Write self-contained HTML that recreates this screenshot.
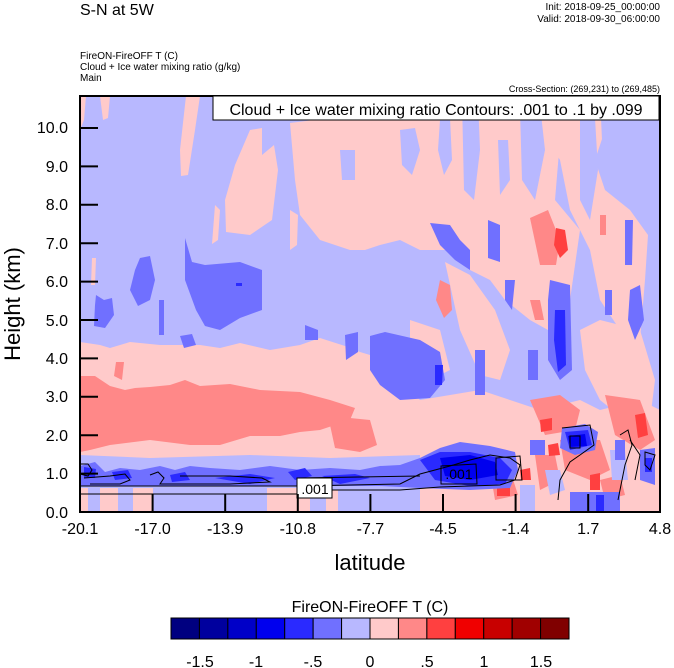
<!DOCTYPE html>
<html><head><meta charset="utf-8"><style>
body{margin:0;background:#fff;width:674px;height:668px;overflow:hidden}
svg{display:block}
text{font-family:"Liberation Sans",Arial,sans-serif}
</style></head><body>
<svg width="674" height="668" viewBox="0 0 674 668" xmlns="http://www.w3.org/2000/svg">
<defs><clipPath id="c"><rect x="80" y="96" width="580" height="416"/></clipPath></defs>
<g clip-path="url(#c)">
<rect x="80" y="96" width="580" height="416" fill="#b8b8ff"/>
<g fill="#ffcaca">
<path d="M80 96 L86 96 L84 120 L80 130Z"/>
<path d="M100 96 L110 96 L108 118 L103 120Z"/>
<path d="M186 96 L200 96 L195 130 L188 175 L181 176 L180 150Z"/>
<path d="M240 96 L255 96 L250 120Z"/>
<path d="M250 130 L262 128 L262 155 L274 145 L278 170 L272 220 L250 235 L226 232 L225 200 L235 165Z"/>
<path d="M215 205 L220 210 L218 240 L212 244Z"/>
<path d="M92 258 L96 258 L95 285 L91 285Z"/>
<path d="M290 123 L330 118 L380 110 L420 96 L520 96 L540 110 L560 140 L555 200 L580 230 L570 300 L548 330 L530 320 L505 300 L490 280 L470 270 L450 250 L420 250 L400 240 L380 245 L365 250 L350 250 L320 240 L300 215 L295 180Z"/>
<path d="M520 96 L600 96 L612 96 L605 130 L595 160 L605 190 L630 210 L648 235 L645 280 L640 340 L620 330 L600 300 L590 250 L570 210 L560 160Z"/>
<path d="M290 210 L298 215 L297 245 L290 250Z"/>
<path d="M445 262 L470 275 L495 310 L510 350 L500 380 L480 375 L460 330Z"/>
<path d="M410 320 L440 330 L450 370 L430 380 L410 360Z"/>
<path d="M580 330 L600 320 L640 330 L655 380 L650 420 L625 420 L600 400 L585 370Z"/>
<path d="M80 342 L100 345 L110 348 L130 342 L160 345 L200 345 L220 348 L240 343 L270 350 L300 345 L320 338 L345 346 L360 352 L380 358 L400 380 L420 400 L450 395 L480 390 L510 400 L540 410 L580 400 L600 410 L640 400 L660 410 L660 512 L80 512Z"/>
</g>
<!-- blue streaks in upper pink -->
<g fill="#b8b8ff">
<path d="M400 130 L415 128 L420 150 L412 175 L402 165Z"/>
<path d="M440 120 L450 118 L452 160 L444 175 L438 150Z"/>
<path d="M462 100 L478 100 L480 150 L474 200 L464 190Z"/>
<path d="M520 110 L540 105 L545 150 L535 200 L522 180Z"/>
<path d="M580 120 L595 118 L598 170 L590 220 L580 200Z"/>
<path d="M498 140 L508 140 L510 180 L500 195Z"/>
<path d="M340 150 L355 150 L355 180 L342 180Z"/>
<path d="M600 96 L615 96 L612 125 L602 140Z"/>
</g>
<g fill="#ff8888">
<path d="M80 376 L95 376 L110 386 L125 390 L135 388 L150 387 L170 385 L185 380 L200 386 L230 384 L260 390 L300 392 L330 400 L355 408 L350 420 L320 430 L300 432 L280 436 L250 436 L220 445 L190 445 L150 440 L110 445 L90 450 L80 452Z"/>
<path d="M330 425 L350 418 L370 420 L377 445 L360 452 L335 448Z"/>
<path d="M116 362 L124 362 L122 380 L114 376Z"/>
<path d="M440 280 L450 285 L452 310 L444 318 L436 300Z"/>
<path d="M530 218 L548 210 L560 240 L556 265 L540 265Z"/>
<path d="M530 300 L540 300 L544 320 L535 320Z"/>
<path d="M600 215 L606 215 L606 235 L600 235Z"/>
<path d="M530 400 L560 395 L580 410 L575 430 L545 435Z"/>
<path d="M560 440 L600 440 L610 470 L590 480 L565 470Z"/>
<path d="M605 395 L640 400 L655 440 L640 450 L615 435Z"/>
<path d="M490 470 L510 470 L518 495 L495 500Z"/>
<path d="M535 455 L555 455 L560 480 L540 490Z"/>
<path d="M600 480 L620 475 L625 495 L605 500Z"/>
<path d="M80 465 L85 465 L86 480 L80 480Z"/>
<path d="M310 490 L326 490 L326 512 L310 512Z"/>
</g>
<g fill="#ff4040">
<path d="M556 228 L565 230 L568 250 L560 258 L554 245Z"/>
<path d="M548 445 L558 443 L560 455 L549 456Z"/>
<path d="M635 415 L645 413 L648 435 L638 438Z"/>
<path d="M497 484 L510 482 L510 496 L497 496Z"/>
<path d="M540 420 L552 418 L552 430 L541 432Z"/>
<path d="M590 475 L600 473 L600 490 L590 490Z"/>
<path d="M385 470 L398 465 L402 480 L388 482Z"/>
<path d="M520 470 L530 468 L531 480 L521 480Z"/>
</g>
<g fill="#7070ff">
<path d="M96 295 L104 300 L112 298 L114 315 L105 328 L94 326 L95 305Z"/>
<path d="M140 258 L150 256 L155 280 L150 300 L138 306 L130 290 L135 270Z"/>
<path d="M159 300 L164 300 L164 335 L159 335Z"/>
<path d="M185 238 L192 262 L205 265 L240 262 L262 270 L262 310 L240 318 L220 330 L205 326 L196 310 L185 280Z"/>
<path d="M180 336 L192 334 L196 345 L184 348Z"/>
<path d="M305 325 L318 330 L318 340 L305 340Z"/>
<path d="M345 335 L358 332 L358 352 L346 360Z"/>
<path d="M370 336 L385 332 L420 340 L440 352 L445 380 L430 398 L400 400 L380 385 L370 370Z"/>
<path d="M430 223 L450 225 L460 240 L470 250 L470 270 L455 260 L440 245Z"/>
<path d="M488 220 L500 225 L500 262 L488 258Z"/>
<path d="M505 280 L515 280 L512 310 L505 300Z"/>
<path d="M550 280 L570 285 L572 370 L560 380 L548 360 L548 300Z"/>
<path d="M630 290 L640 285 L644 320 L635 340 L628 320Z"/>
<path d="M625 220 L633 220 L632 265 L625 265Z"/>
<path d="M605 290 L612 290 L612 315 L605 315Z"/>
<path d="M528 350 L538 350 L538 380 L528 380Z"/>
<path d="M475 350 L485 350 L485 395 L475 395Z"/>
</g>
<g fill="#2a2aff"><path d="M555 310 L565 310 L566 365 L558 372 L554 340Z"/>
<path d="M435 365 L443 365 L442 385 L435 385Z"/>
<path d="M236 283 L242 283 L242 286 L236 286Z"/></g>
<g fill="#b8b8ff">
<path d="M80 455 L150 458 L250 455 L330 458 L420 455 L420 512 L80 512Z"/>
<rect x="520" y="485" width="15" height="27"/>
<path d="M545 470 L560 470 L565 490 L550 495Z"/>
<path d="M610 450 L625 450 L628 480 L612 480Z"/>
</g>
<g fill="#ffcaca">
<rect x="80" y="488" width="8" height="24"/><rect x="100" y="488" width="18" height="24"/>
<rect x="133" y="488" width="20" height="24"/><rect x="267" y="488" width="43" height="24"/>
<rect x="326" y="490" width="12" height="22"/>
</g>
<g fill="#7070ff">
<path d="M80 466 L95 462 L105 472 L120 468 L140 470 L160 466 L175 470 L190 466 L210 468 L240 470 L270 466 L300 470 L330 468 L360 470 L380 466 L400 465 L420 458 L440 448 L460 442 L490 446 L515 452 L518 470 L510 488 L470 490 L420 488 L380 486 L300 486 L200 486 L80 486Z"/>
<path d="M562 428 L585 424 L598 432 L595 450 L575 455 L560 448Z"/>
<path d="M530 440 L545 440 L545 455 L530 455Z"/>
<path d="M640 450 L655 448 L655 485 L640 480Z"/>
<path d="M615 440 L625 440 L625 460 L615 460Z"/>
<path d="M570 492 L620 492 L620 512 L570 512Z"/>
</g>
<g fill="#2a2aff">
<path d="M84 467 L96 469 L95 478 L84 478Z"/>
<path d="M112 472 L128 470 L132 478 L115 480Z"/>
<path d="M170 475 L185 472 L190 480 L172 482Z"/>
<path d="M215 478 L250 474 L275 478 L250 484Z"/>
<path d="M288 472 L305 468 L312 476 L295 480Z"/>
<path d="M322 476 L355 474 L370 478 L340 484Z"/>
<path d="M420 460 L440 452 L470 452 L500 458 L512 470 L505 484 L470 486 L435 480Z"/>
<path d="M565 432 L588 430 L592 445 L570 450Z"/>
<path d="M645 458 L652 458 L652 472 L645 472Z"/>
<path d="M596 495 L604 495 L604 512 L596 512Z"/>
</g>
<g fill="#0000ee"><path d="M440 458 L470 455 L495 462 L498 475 L470 480 L445 476Z"/><path d="M568 436 L585 434 L587 446 L570 447Z"/></g>
<g fill="none" stroke="#000" stroke-width="1">
<path d="M80 464 L88 464 L92 470 L88 476 L80 474"/>
<path d="M84 478 L110 476 L125 474 L130 480 L120 484 L100 484 L90 484"/>
<path d="M150 475 L158 472 L164 478 L160 484 L230 484 L270 482 L262 478 L230 476 L180 476"/>
<path d="M80 486 L300 486 L400 484 L420 474 L450 466 L470 460 L490 455 L510 458 L520 465 L515 480 L500 485 L470 486 L440 487 L400 490 L330 490 L300 494 L80 494"/>
<path d="M298 478 L420 476"/>
<path d="M441 466 L476 464 L477 484 L441 484Z"/>
<path d="M496 458 L520 456 L522 480 L496 480Z"/>
<path d="M562 428 L590 425 L594 445 L580 455 L570 462 L560 480 L558 500"/>
<path d="M570 436 L580 436 L580 448 L570 448Z"/>
<path d="M620 435 L628 430 L632 445 L625 465 L620 490 L618 500"/>
<path d="M630 440 L640 455 L635 480"/>
<path d="M645 452 L655 455 L650 470 L645 465Z"/>
</g>
</g>
<rect x="80" y="96" width="580" height="416" fill="none" stroke="#000" stroke-width="2"/>
<rect x="213" y="96" width="446" height="24" fill="#fff" stroke="#000" stroke-width="1"/>
<text x="436" y="115" font-size="16" text-anchor="middle">Cloud + Ice water mixing ratio Contours: .001 to .1 by .099</text>
<rect x="297" y="478" width="35" height="20" fill="#fff" stroke="#000" stroke-width="1"/>
<text x="315" y="494" font-size="14" text-anchor="middle">.001</text>
<text x="459" y="479" font-size="14" text-anchor="middle">.001</text>
<g stroke="#000" stroke-width="2">
<line x1="80" y1="473.6" x2="98" y2="473.6"/><line x1="80" y1="435.2" x2="98" y2="435.2"/><line x1="80" y1="396.8" x2="98" y2="396.8"/><line x1="80" y1="358.4" x2="98" y2="358.4"/><line x1="80" y1="320" x2="98" y2="320"/><line x1="80" y1="281.6" x2="98" y2="281.6"/><line x1="80" y1="243.2" x2="98" y2="243.2"/><line x1="80" y1="204.8" x2="98" y2="204.8"/><line x1="80" y1="166.4" x2="98" y2="166.4"/><line x1="80" y1="128" x2="98" y2="128"/>
<line x1="152.6" y1="512" x2="152.6" y2="494"/><line x1="225.2" y1="512" x2="225.2" y2="494"/><line x1="297.8" y1="512" x2="297.8" y2="494"/><line x1="370.4" y1="512" x2="370.4" y2="494"/><line x1="443" y1="512" x2="443" y2="494"/><line x1="515.6" y1="512" x2="515.6" y2="494"/><line x1="588.2" y1="512" x2="588.2" y2="494"/>
</g>
<g font-size="16" text-anchor="end">
<text x="68" y="518">0.0</text><text x="68" y="479">1.0</text><text x="68" y="441">2.0</text><text x="68" y="402">3.0</text><text x="68" y="364">4.0</text><text x="68" y="326">5.0</text><text x="68" y="287">6.0</text><text x="68" y="249">7.0</text><text x="68" y="210">8.0</text><text x="68" y="172">9.0</text><text x="68" y="133">10.0</text>
</g>
<g font-size="16" text-anchor="middle">
<text x="80" y="534">-20.1</text><text x="152.6" y="534">-17.0</text><text x="225.2" y="534">-13.9</text><text x="297.8" y="534">-10.8</text><text x="370.4" y="534">-7.7</text><text x="443" y="534">-4.5</text><text x="515.6" y="534">-1.4</text><text x="588.2" y="534">1.7</text><text x="660" y="534">4.8</text>
</g>
<text x="370" y="570" font-size="22" text-anchor="middle">latitude</text>
<text transform="translate(20,304) rotate(-90)" font-size="22" text-anchor="middle">Height (km)</text>
<text x="80" y="15" font-size="16">S-N at 5W</text>
<text x="660" y="10" font-size="10" text-anchor="end">Init: 2018-09-25_00:00:00</text>
<text x="660" y="22" font-size="10" text-anchor="end">Valid: 2018-09-30_06:00:00</text>
<text x="80" y="59" font-size="10">FireON-FireOFF T   (C)</text>
<text x="80" y="70" font-size="10">Cloud + Ice water mixing ratio   (g/kg)</text>
<text x="80" y="81" font-size="10">Main</text>
<text x="660" y="92" font-size="9" text-anchor="end">Cross-Section: (269,231) to (269,485)</text>
<text x="370" y="612" font-size="16" text-anchor="middle">FireON-FireOFF T  (C)</text>
<g stroke="#000" stroke-width="1">
<rect x="171" y="618" width="28.43" height="21" fill="#000080"/>
<rect x="199.43" y="618" width="28.43" height="21" fill="#00009e"/>
<rect x="227.86" y="618" width="28.43" height="21" fill="#0000c8"/>
<rect x="256.29" y="618" width="28.43" height="21" fill="#0000ee"/>
<rect x="284.72" y="618" width="28.43" height="21" fill="#2a2aff"/>
<rect x="313.15" y="618" width="28.43" height="21" fill="#7070ff"/>
<rect x="341.58" y="618" width="28.43" height="21" fill="#b8b8ff"/>
<rect x="370.01" y="618" width="28.43" height="21" fill="#ffcaca"/>
<rect x="398.44" y="618" width="28.43" height="21" fill="#ff8888"/>
<rect x="426.87" y="618" width="28.43" height="21" fill="#ff4040"/>
<rect x="455.3" y="618" width="28.43" height="21" fill="#f00000"/>
<rect x="483.73" y="618" width="28.43" height="21" fill="#c80000"/>
<rect x="512.16" y="618" width="28.43" height="21" fill="#a00000"/>
<rect x="540.59" y="618" width="28.43" height="21" fill="#800000"/>
</g>
<g font-size="16" text-anchor="middle">
<text x="200" y="667">-1.5</text><text x="256" y="667">-1</text><text x="313" y="667">-.5</text><text x="370" y="667">0</text><text x="427" y="667">.5</text><text x="484" y="667">1</text><text x="541" y="667">1.5</text>
</g>
</svg>
</body></html>
